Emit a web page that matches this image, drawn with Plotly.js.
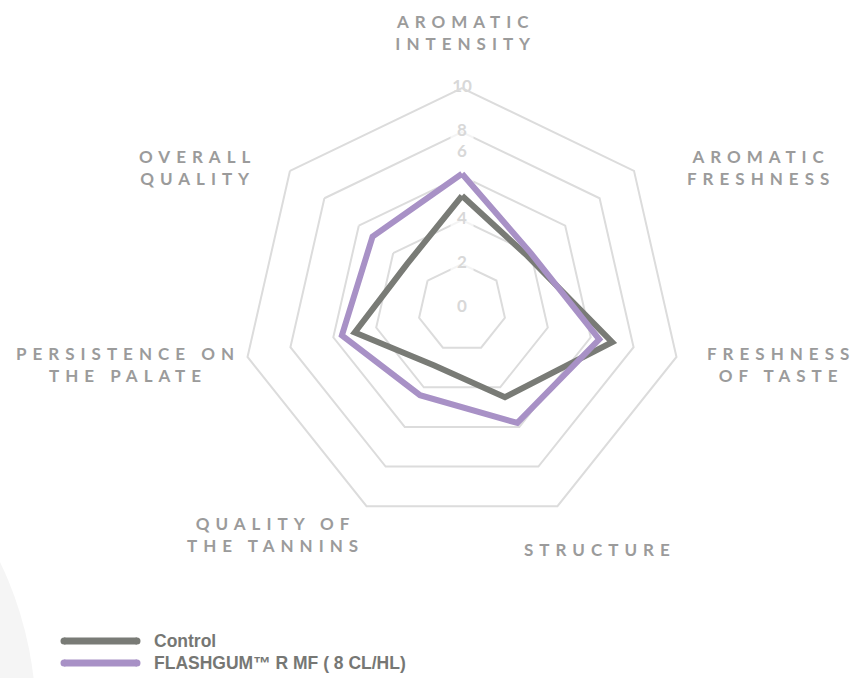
<!DOCTYPE html>
<html>
<head>
<meta charset="utf-8">
<script src="https://cdn.plot.ly/plotly-3.0.1.min.js"></script>
<style>html,body{margin:0;padding:0;background:#fff;}#chart{width:857px;height:678px;}</style>
</head>
<body>
<div id="chart"></div>
<script>
// ---- data ----
const categories = ['AROMATIC INTENSITY', 'AROMATIC FRESHNESS', 'FRESHNESS OF TASTE', 'STRUCTURE', 'QUALITY OF THE TANNINS', 'PERSISTENCE ON THE PALATE', 'OVERALL QUALITY'];
const categoryLines = [['AROMATIC', 'INTENSITY'], ['AROMATIC', 'FRESHNESS'], ['FRESHNESS', 'OF TASTE'], ['STRUCTURE'], ['QUALITY OF', 'THE TANNINS'], ['PERSISTENCE ON', 'THE PALATE'], ['OVERALL', 'QUALITY']];
const controlValues = [5.1, 3.8, 7.0, 4.5, 2.9, 5.0, 3.2];
const flashgumValues = [6.1, 4.0, 6.4, 5.8, 4.4, 5.6, 5.2];
const radialTicks = [0, 2, 4, 6, 8, 10];
const seriesNames = ['Control', 'FLASHGUM\u2122 R MF ( 8 CL/HL)'];

// ---- layout helpers (pixel positions, styles) ----
const W = 857, H = 678;
const CX = 462, CY = 308, R = 220;
const labelPos = [[465, 32], [761, 168], [781, 364], [600, 549], [275, 534], [128, 364], [197, 168]];
const seriesColors = ['#797b76', '#a891c6'];
const px = x => x / W, py = y => 1 - y / H;
const close = a => a.concat([a[0]]);

const traces = [
  {
    type: 'scatterpolar',
    r: radialTicks.map(v => v === 0 ? 0.001 : v),
    theta: radialTicks.map(() => categories[0]),
    mode: 'markers+text',
    text: radialTicks.map(String),
    textposition: radialTicks.map(v => v === 6 ? 'top center' : 'middle center'),
    textfont: {family: 'Lato, sans-serif', size: 17, color: '#d8d8d8', weight: 700},
    marker: {symbol: 'square', color: '#ffffff', size: radialTicks.map(v => v === 0 ? 2 : (v >= 10 ? 30 : 22))},
    cliponaxis: false,
    hoverinfo: 'skip',
    showlegend: false
  },
  {
    type: 'scatterpolar',
    name: seriesNames[0],
    r: close(controlValues),
    theta: close(categories),
    mode: 'lines',
    line: {color: seriesColors[0], width: 6},
    showlegend: false
  },
  {
    type: 'scatterpolar',
    name: seriesNames[1],
    r: close(flashgumValues),
    theta: close(categories),
    mode: 'lines',
    line: {color: seriesColors[1], width: 6},
    showlegend: false
  }
];

const annotations = categoryLines.map((lines, i) => ({
  xref: 'paper', yref: 'paper',
  x: px(labelPos[i][0]), y: py(labelPos[i][1]),
  xanchor: 'center', yanchor: 'middle', align: 'center',
  showarrow: false,
  text: lines.join('<br>'),
  font: {family: 'Lato, sans-serif', size: 17, color: '#9b9b9b', weight: 700}
}));

// legend
const legendY = [641, 663];
const shapes = [
  {type: 'circle', xref: 'paper', yref: 'paper', layer: 'below',
   x0: px(-694), x1: px(36), y0: py(1085), y1: py(355),
   fillcolor: '#f5f5f5', line: {width: 0}}
];
seriesNames.forEach((name, i) => {
  const y = legendY[i];
  shapes.push({type: 'line', xref: 'paper', yref: 'paper', x0: px(64), x1: px(137), y0: py(y), y1: py(y),
    line: {color: seriesColors[i], width: 7}});
  [64, 137].forEach(x => shapes.push({type: 'circle', xref: 'paper', yref: 'paper',
    x0: px(x - 3.5), x1: px(x + 3.5), y0: py(y + 3.5), y1: py(y - 3.5),
    fillcolor: seriesColors[i], line: {width: 0}}));
  annotations.push({xref: 'paper', yref: 'paper', x: px(152), y: py(y), xanchor: 'left', yanchor: 'middle',
    showarrow: false, text: '<b>' + name + '</b>',
    font: {family: '"Liberation Sans", Arial, sans-serif', size: 17.5, color: '#767774'}});
});

const layout = {
  width: W, height: H,
  margin: {l: 0, r: 0, t: 0, b: 0},
  paper_bgcolor: '#ffffff',
  showlegend: false,
  polar: {
    domain: {x: [px(CX - R), px(CX + R)], y: [py(CY + R), py(CY - R)]},
    gridshape: 'linear',
    bgcolor: 'rgba(0,0,0,0)',
    radialaxis: {range: [0, 10], tickvals: radialTicks.filter(v => v > 0), showticklabels: false, ticks: '',
      showline: false, gridcolor: '#dcdcdc', gridwidth: 2},
    angularaxis: {rotation: 90, direction: 'clockwise', showticklabels: false, ticks: '',
      showgrid: false, showline: true, linecolor: '#dcdcdc', linewidth: 2}
  },
  annotations: annotations,
  shapes: shapes
};

Plotly.newPlot('chart', traces, layout, {displayModeBar: false, staticPlot: true}).then(gd => {
  // letter-spaced category labels
  gd.querySelectorAll('g.annotation').forEach(g => {
    const idx = +g.getAttribute('data-index');
    if (idx < categories.length) {
      const t = g.querySelector('text.annotation-text');
      if (t) t.style.letterSpacing = '6px';
    }
  });
});
</script>
</body>
</html>
